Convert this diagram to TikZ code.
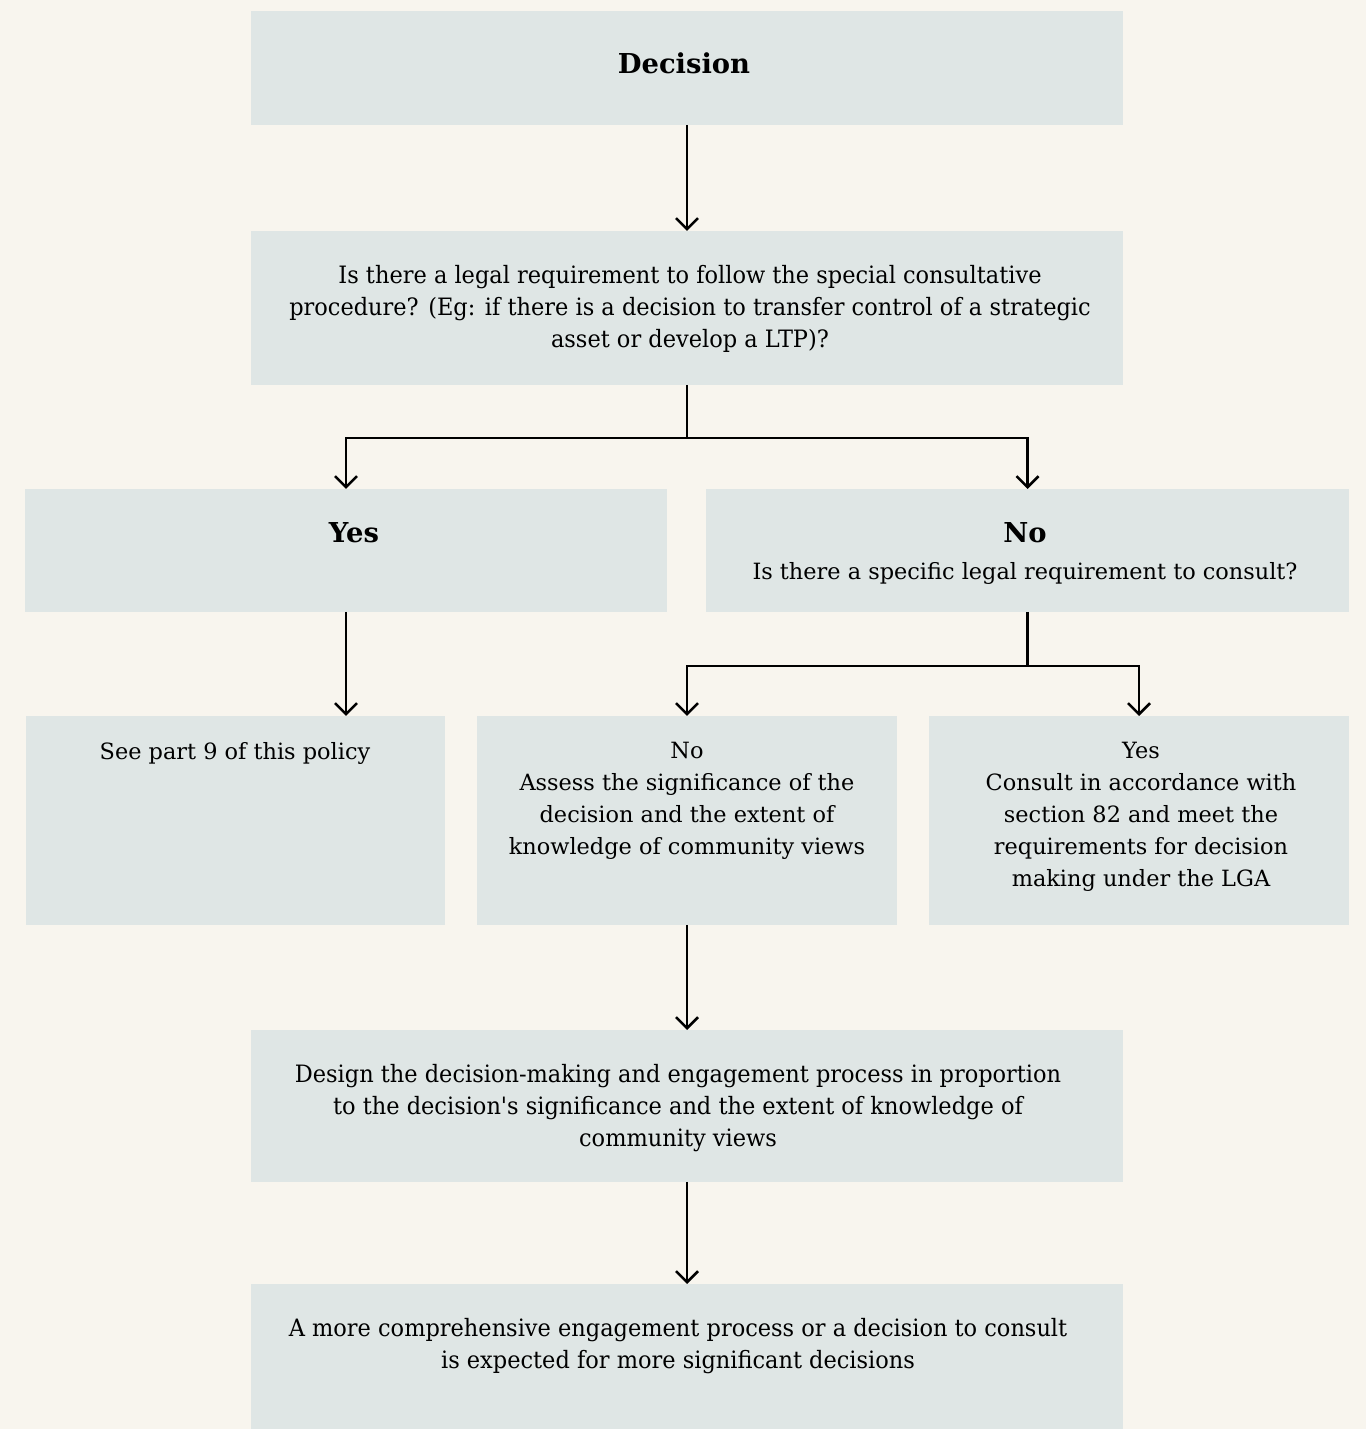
\documentclass[tikz,border=0pt]{standalone}
\usepackage{fontspec}
\setmainfont{DejaVu Serif}
\newfontfamily\condfont[FakeStretch=0.94]{DejaVu Serif}
\usepackage{tikz}
\usetikzlibrary{arrows.meta}
\definecolor{pagebg}{RGB}{248,245,238}
\definecolor{boxbg}{RGB}{223,230,229}
\newcommand{\headfont}{\fontsize{27.5}{34}\bfseries\selectfont}
\newcommand{\bodyfont}{\fontsize{22.5}{32}\selectfont}
\newcommand{\widefont}{\condfont\fontsize{24}{32}\selectfont}

\begin{document}
\begin{tikzpicture}[>={Straight Barb[length=11bp,width=22bp]}, line width=2.5bp]
      \tikzstyle{box}=[fill=boxbg,draw=none,inner sep=0pt,outer sep=0pt]
      \tikzstyle{txt}=[align=center,inner sep=0pt]
      \fill[pagebg] (0bp,0bp) rectangle (1366bp,1429bp);
      \useasboundingbox (0bp,0bp) rectangle (1366bp,1429bp);

%%
  \node (dec) at (687bp,1361bp) [box,minimum width=872bp,minimum height=114bp] {};
  \node (q1) at (687bp,1121bp) [box,minimum width=872bp,minimum height=154bp] {};
  \node (yes1) at (346bp,878.5bp) [box,minimum width=642bp,minimum height=123bp] {};
  \node (no1) at (1027.5bp,878.5bp) [box,minimum width=643bp,minimum height=123bp] {};
  \node (part9) at (235.5bp,608.5bp) [box,minimum width=419bp,minimum height=209bp] {};
  \node (assess) at (687bp,608.5bp) [box,minimum width=420bp,minimum height=209bp] {};
  \node (consult) at (1139bp,608.5bp) [box,minimum width=420bp,minimum height=209bp] {};
  \node (design) at (687bp,323bp) [box,minimum width=872bp,minimum height=152bp] {};
  \node (more) at (687bp,72.5bp) [box,minimum width=872bp,minimum height=145bp] {};
%
  \node (dec_t) at (684bp,1366bp) [txt,font=\headfont] {Decision};
  \node (q1_t) at (690bp,1120bp) [txt,font=\widefont] {Is there a legal requirement to follow the special consultative\\procedure? (Eg: if there is a decision to transfer control of a strategic\\asset or develop a LTP)?};
  \node (yes1_t) at (354bp,896bp) [txt,font=\headfont] {Yes};
  \node (no1_t) at (1025bp,896bp) [txt,font=\headfont] {No};
  \node (no1_s) at (1025bp,856bp) [txt,font=\bodyfont] {Is there a specific legal requirement to consult?};
  \node (part9_t) at (235bp,676bp) [txt,font=\bodyfont] {See part 9 of this policy};
  \node (assess_t) at (687bp,628bp) [txt,font=\bodyfont] {No\\Assess the significance of the\\decision and the extent of\\knowledge of community views};
  \node (consult_t) at (1141bp,612bp) [txt,font=\bodyfont] {Yes\\Consult in accordance with\\section 82 and meet the\\requirements for decision\\making under the LGA};
  \node (design_t) at (678bp,321bp) [txt,font=\widefont] {Design the decision-making and engagement process in proportion\\to the decision's significance and the extent of knowledge of\\community views};
  \node (more_t) at (678bp,83bp) [txt,font=\widefont] {A more comprehensive engagement process or a decision to consult\\is expected for more significant decisions};
%
  \coordinate (split1) at (687bp,991bp);
  \coordinate (split2) at (1027.5bp,763bp);
  \draw [->] (dec) -- (q1);
  \draw (q1.south) -- (split1);
  \draw [->] (split1) -| (yes1.north);
  \draw [->] (split1) -| (no1.north);
  \draw [->] (yes1.south) -- (yes1.south |- part9.north);
  \draw (no1.south) -- (split2);
  \draw [->] (split2) -| (assess.north);
  \draw [->] (split2) -| (consult.north);
  \draw [->] (assess) -- (design);
  \draw [->] (design) -- (more);
%

    \end{tikzpicture}
\end{document}
